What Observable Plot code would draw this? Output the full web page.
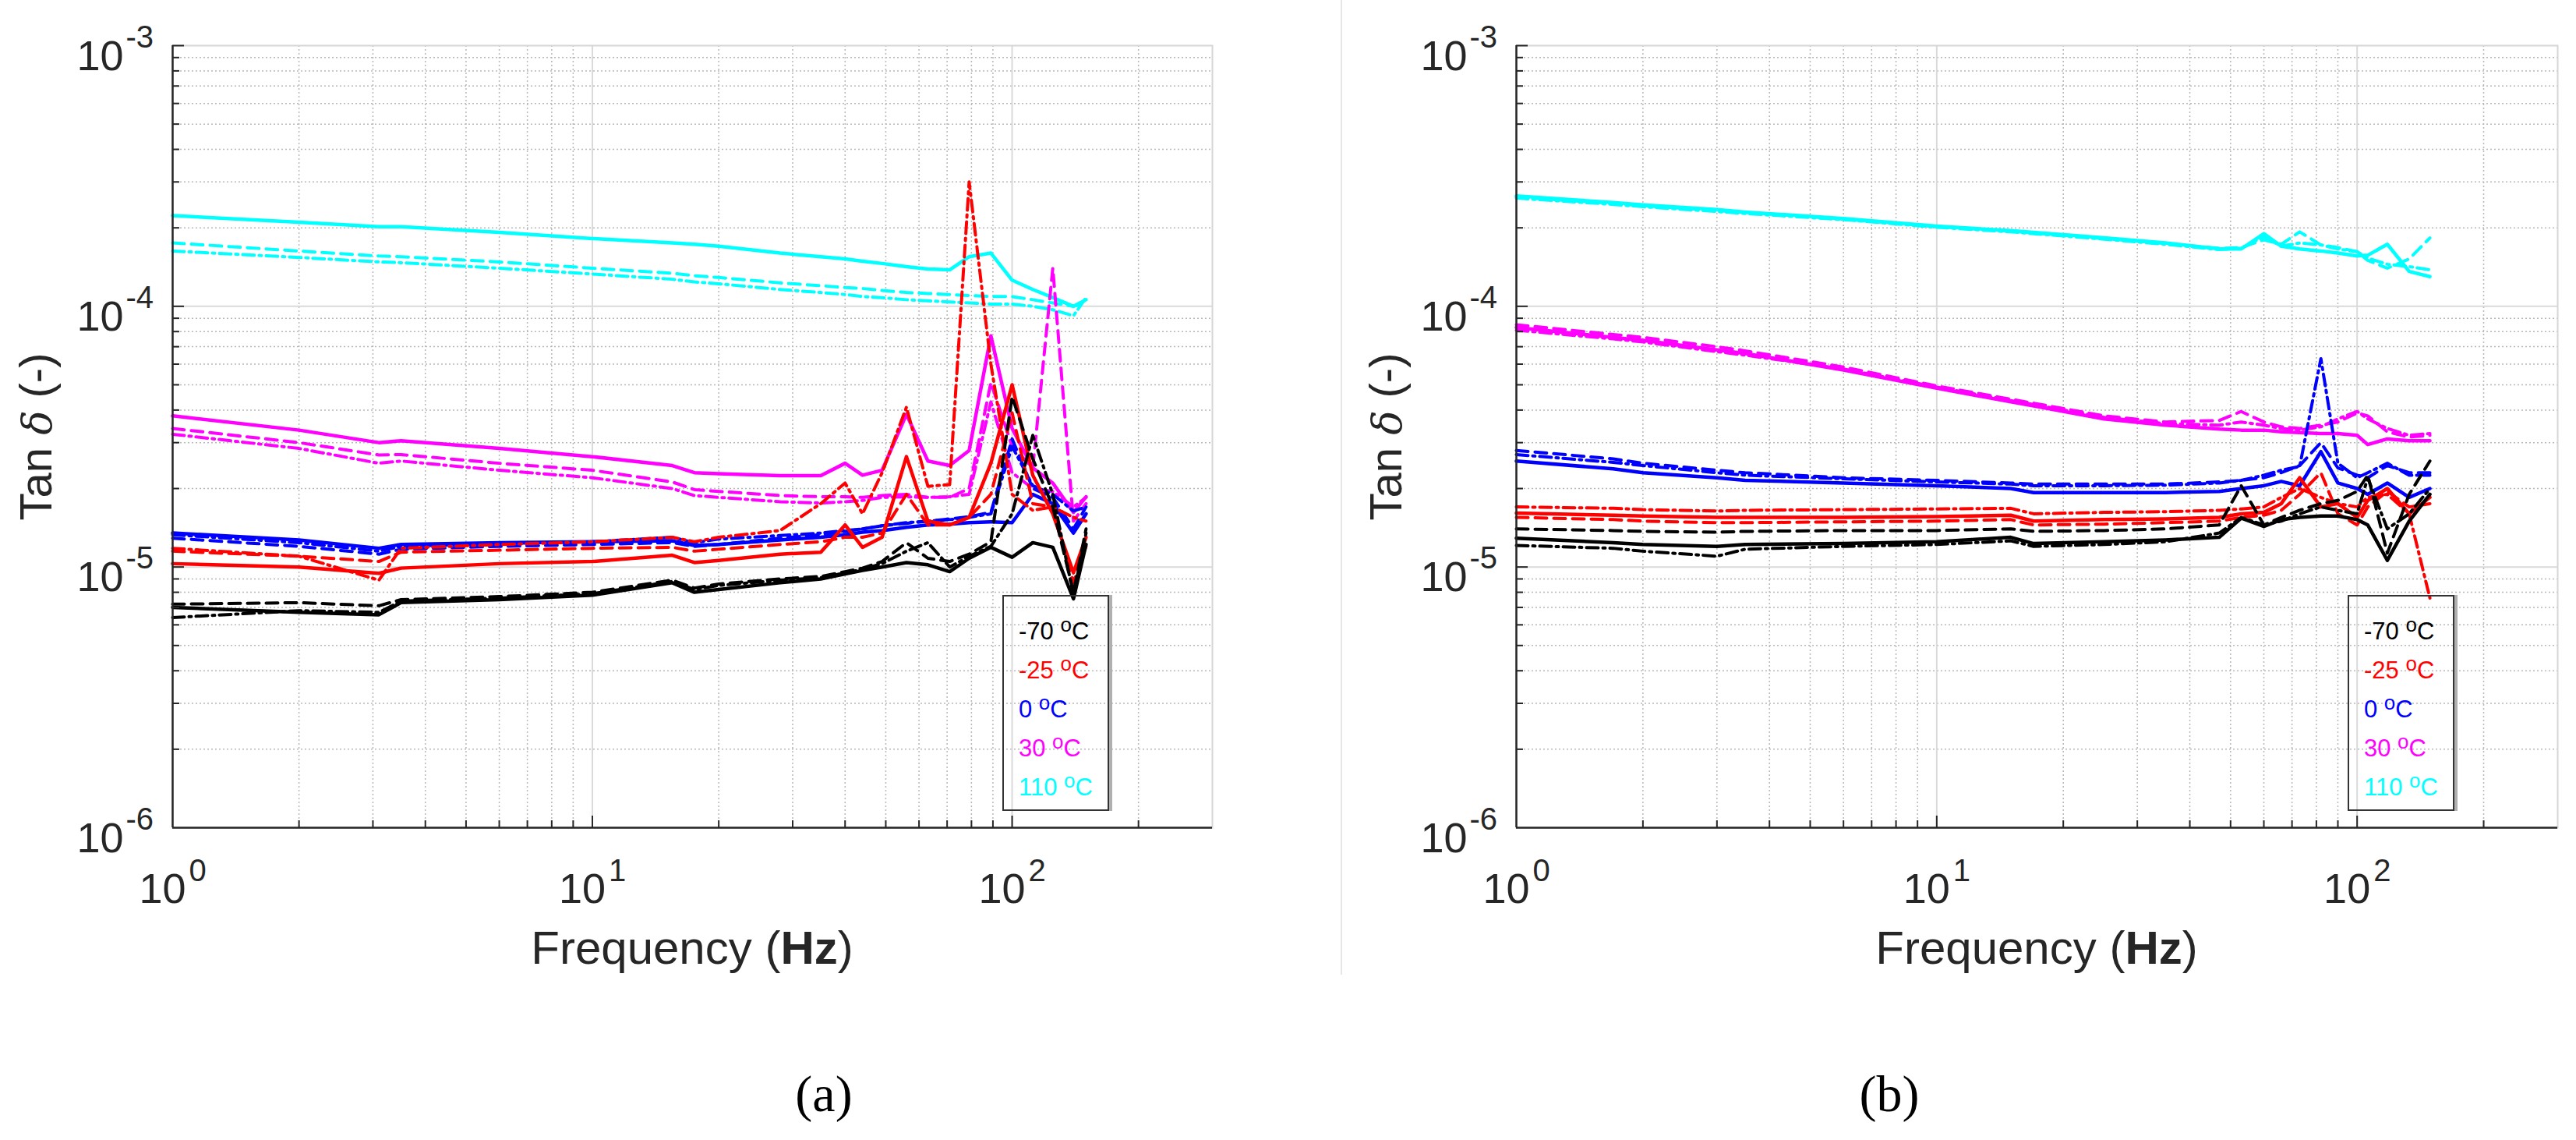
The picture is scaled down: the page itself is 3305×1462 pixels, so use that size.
<!DOCTYPE html>
<html>
<head>
<meta charset="utf-8">
<script src="https://cdn.jsdelivr.net/npm/d3@7"></script>
<script src="https://cdn.jsdelivr.net/npm/@observablehq/plot@0.6"></script>
<style>
  body { margin: 0; background: #fff; }
  #page { position: relative; width: 3305px; height: 1462px; overflow: hidden; background: #fff;
          font-family: "Liberation Sans", Arial, sans-serif; color: #262626; }
  .panel { position: absolute; top: 0; }
  .ylab { position: absolute; font-size: 58px; line-height: 58px; white-space: nowrap;
          transform: translate(-50%, -50%) rotate(-90deg); }
  .ylab i { font-family: "DejaVu Serif", serif; font-size: 52px; }
  .xlab { position: absolute; font-size: 60px; line-height: 60px; white-space: nowrap; transform: translateX(-50%); }
  .xlab b { font-weight: 600; }
  .cap { position: absolute; font-family: "Liberation Serif", serif; font-size: 66px; line-height: 66px;
         color: #000; transform: translateX(-50%); }
  .legend { position: absolute; box-sizing: border-box; border: 2px solid #333; box-shadow: 4px 0 0 #b0b0b0;
            font-size: 31px; line-height: 50px; padding: 20px 0 0 19px; white-space: nowrap; }
  .legend sup { font-size: 26px; line-height: 0; vertical-align: 10px; }
  .sep { position: absolute; left: 1720px; top: 0; width: 2px; height: 1250px; background: #e6e6e6; }
</style>
</head>
<body>
<div id="page">
  <div class="sep"></div>
  <div id="pa" class="panel" style="left:0;width:1650px"></div>
  <div id="pb" class="panel" style="left:1650px;width:1655px"></div>
</div>
<script>
// tan delta values are written in units of 1e-5

// panel (a)
const freqA = [1, 2, 3.1, 3.5, 6, 10, 15.5, 17.5, 20, 28, 35, 40, 44, 49, 56, 63, 71, 79, 89, 100, 112, 125, 140, 150];

const aCyanSolid   = [22.3, 21.0, 20.2, 20.2, 19.2, 18.2, 17.5, 17.3, 17.0, 16.0, 15.5, 15.2, 14.9, 14.6, 14.2, 13.9, 13.8, 15.5, 16.0, 12.6, 11.6, 10.8, 10.0, 10.6];
const aCyanDash    = [17.5, 16.3, 15.6, 15.5, 14.8, 14.0, 13.4, 13.1, 12.9, 12.3, 12.0, 11.8, 11.7, 11.5, 11.3, 11.2, 11.1, 11.0, 10.9, 10.9, 10.6, 10.3, 10.0, 10.3];
const aCyanDashDot = [16.3, 15.4, 14.8, 14.7, 14.0, 13.3, 12.7, 12.4, 12.2, 11.6, 11.3, 11.1, 10.9, 10.8, 10.6, 10.5, 10.4, 10.3, 10.2, 10.2, 10.0, 9.7, 9.2, 10.8];

const aMagSolid    = [3.8, 3.35, 3.0, 3.05, 2.85, 2.65, 2.45, 2.3, 2.28, 2.24, 2.24, 2.5, 2.25, 2.35, 3.85, 2.55, 2.45, 2.8, 7.7, 3.4, 2.4, 2.1, 1.62, 1.86];
const aMagDash     = [3.4, 3.0, 2.69, 2.7, 2.5, 2.35, 2.12, 1.98, 1.95, 1.88, 1.86, 1.86, 1.85, 1.88, 1.9, 1.85, 1.85, 2.0, 5.1, 2.9, 2.4, 14.0, 1.5, 1.75];
const aMagDashDot  = [3.23, 2.85, 2.5, 2.55, 2.35, 2.2, 2.0, 1.88, 1.85, 1.78, 1.76, 1.78, 1.8, 1.85, 1.86, 1.85, 1.86, 1.9, 4.3, 2.3, 2.0, 1.95, 1.7, 1.85];

const aBlueSolid   = [1.35, 1.27, 1.18, 1.22, 1.24, 1.25, 1.26, 1.21, 1.22, 1.27, 1.3, 1.33, 1.36, 1.38, 1.42, 1.45, 1.46, 1.48, 1.49, 1.48, 1.9, 1.75, 1.35, 1.6];
const aBlueDash    = [1.29, 1.2, 1.12, 1.17, 1.2, 1.22, 1.24, 1.2, 1.22, 1.29, 1.33, 1.37, 1.4, 1.44, 1.47, 1.5, 1.53, 1.56, 1.62, 3.1, 2.0, 1.85, 1.4, 1.7];
const aBlueDashDot = [1.33, 1.24, 1.15, 1.2, 1.23, 1.25, 1.3, 1.24, 1.28, 1.32, 1.35, 1.38, 1.4, 1.44, 1.48, 1.5, 1.52, 1.55, 1.6, 2.9, 2.05, 1.9, 1.64, 1.7];

const aRedSolid    = [1.03, 1.0, 0.946, 0.99, 1.03, 1.05, 1.11, 1.04, 1.06, 1.12, 1.14, 1.45, 1.19, 1.3, 2.65, 1.5, 1.45, 1.55, 2.5, 5.0, 2.25, 1.6, 0.95, 1.3];
const aRedDash     = [1.15, 1.1, 1.05, 1.14, 1.16, 1.18, 1.19, 1.15, 1.17, 1.22, 1.25, 1.3, 1.3, 1.35, 1.9, 1.45, 1.45, 1.55, 1.9, 3.9, 1.75, 1.7, 0.87, 1.2];
const aRedDashDot  = [1.18, 1.1, 0.89, 1.18, 1.22, 1.25, 1.3, 1.25, 1.3, 1.38, 1.75, 2.1, 1.6, 2.3, 4.1, 2.04, 2.07, 30.0, 6.0, 1.9, 1.65, 1.7, 1.55, 1.5];

const aBlackSolid  = [0.70, 0.67, 0.656, 0.73, 0.75, 0.78, 0.87, 0.80, 0.82, 0.87, 0.9, 0.94, 0.97, 1.0, 1.04, 1.02, 0.96, 1.08, 1.19, 1.09, 1.24, 1.19, 0.755, 1.22];
const aBlackDash   = [0.72, 0.73, 0.71, 0.75, 0.77, 0.8, 0.89, 0.83, 0.86, 0.9, 0.92, 0.96, 0.99, 1.05, 1.24, 1.08, 1.05, 1.12, 1.25, 4.5, 2.6, 1.7, 0.8, 1.4];
const aBlackDashDot= [0.64, 0.68, 0.67, 0.74, 0.76, 0.79, 0.88, 0.82, 0.85, 0.89, 0.91, 0.95, 0.98, 1.03, 1.15, 1.24, 1.0, 1.1, 1.2, 1.6, 3.2, 1.9, 0.78, 1.35];

// panel (b)
const freqB = [1, 1.7, 2, 3, 3.5, 6, 10, 15, 17, 25, 35, 47, 53, 60, 66, 73, 82, 90, 100, 106, 118, 133, 149];

const bCyanSolid   = [26.5, 25.0, 24.5, 23.5, 23.0, 21.7, 20.3, 19.5, 19.2, 18.3, 17.5, 16.6, 16.6, 19.0, 17.0, 16.6, 16.3, 16.0, 15.6, 15.7, 17.3, 13.6, 13.0];
const bCyanDash    = [26.2, 24.8, 24.3, 23.3, 22.9, 21.6, 20.2, 19.4, 19.1, 18.2, 17.4, 16.7, 16.8, 18.0, 17.3, 19.3, 17.2, 16.8, 16.2, 15.0, 14.0, 15.2, 18.3];
const bCyanDashDot = [26.0, 24.6, 24.1, 23.1, 22.7, 21.5, 20.1, 19.3, 19.0, 18.1, 17.3, 16.5, 16.7, 18.5, 17.0, 17.5, 17.2, 16.6, 16.2, 15.3, 14.5, 14.2, 13.8];

const bMagSolid    = [8.3, 7.6, 7.4, 6.8, 6.6, 5.7, 4.85, 4.3, 4.15, 3.7, 3.5, 3.38, 3.35, 3.35, 3.3, 3.28, 3.25, 3.25, 3.2, 2.95, 3.1, 3.05, 3.05];
const bMagDash     = [8.5, 7.8, 7.6, 7.0, 6.75, 5.85, 4.95, 4.4, 4.25, 3.8, 3.6, 3.65, 3.95, 3.6, 3.45, 3.4, 3.5, 3.6, 3.9, 3.8, 3.3, 3.15, 3.2];
const bMagDashDot  = [8.1, 7.5, 7.3, 6.7, 6.5, 5.75, 4.9, 4.35, 4.2, 3.75, 3.55, 3.5, 3.6, 3.5, 3.4, 3.35, 3.45, 3.7, 3.95, 3.7, 3.4, 3.2, 3.25];

const bBlueSolid   = [2.55, 2.38, 2.3, 2.2, 2.15, 2.1, 2.05, 2.0, 1.93, 1.93, 1.93, 1.95, 2.0, 2.05, 2.13, 2.05, 2.77, 2.1, 2.0, 1.9, 2.1, 1.85, 2.0];
const bBlueDash    = [2.8, 2.6, 2.5, 2.35, 2.3, 2.2, 2.15, 2.1, 2.08, 2.08, 2.08, 2.12, 2.15, 2.2, 2.3, 2.45, 3.0, 2.4, 2.25, 2.2, 2.45, 2.3, 2.3];
const bBlueDashDot = [2.7, 2.52, 2.45, 2.3, 2.25, 2.18, 2.12, 2.08, 2.05, 2.05, 2.06, 2.1, 2.15, 2.25, 2.35, 2.43, 6.3, 2.5, 2.2, 2.3, 2.5, 2.25, 2.25];

const bRedSolid    = [1.61, 1.58, 1.57, 1.55, 1.55, 1.55, 1.56, 1.58, 1.5, 1.52, 1.53, 1.55, 1.6, 1.62, 1.75, 2.2, 1.7, 1.75, 1.55, 1.8, 2.0, 1.6, 1.85];
const bRedDash     = [1.55, 1.52, 1.5, 1.48, 1.48, 1.49, 1.5, 1.52, 1.45, 1.46, 1.48, 1.5, 1.55, 1.58, 1.65, 1.9, 2.3, 1.6, 1.45, 1.7, 1.95, 1.7, 1.75];
const bRedDashDot  = [1.7, 1.68, 1.66, 1.64, 1.65, 1.66, 1.67, 1.68, 1.6, 1.62, 1.63, 1.65, 1.67, 1.7, 1.85, 2.0, 1.85, 1.75, 1.7, 1.85, 1.9, 1.6, 0.76];

const bBlackSolid  = [1.29, 1.24, 1.22, 1.2, 1.22, 1.23, 1.25, 1.3, 1.23, 1.25, 1.27, 1.3, 1.54, 1.43, 1.52, 1.55, 1.57, 1.57, 1.52, 1.45, 1.06, 1.5, 1.9];
const bBlackDash   = [1.4, 1.38, 1.37, 1.36, 1.37, 1.38, 1.38, 1.4, 1.37, 1.38, 1.4, 1.45, 2.05, 1.45, 1.55, 1.65, 1.75, 1.8, 1.95, 2.25, 1.13, 1.9, 2.55];
const bBlackDashDot= [1.21, 1.18, 1.15, 1.1, 1.17, 1.2, 1.22, 1.26, 1.2, 1.22, 1.25, 1.35, 1.55, 1.45, 1.5, 1.6, 1.7, 1.65, 1.6, 2.2, 1.4, 1.6, 2.0];

// legend / colours
const temps = ["-70", "-25", "0", "30", "110"];
const tempColors = ["#000000", "#ff0000", "#0000ff", "#ff00ff", "#00ffff"];

// axis ticks and grid
const xTickVals = [1, 10, 100];
const xTickExp = ["0", "1", "2"];
const yTickVals = [1e-3, 1e-4, 1e-5, 1e-6];
const yTickExp = ["-3", "-4", "-5", "-6"];
const xMinor = [2, 3, 4, 5, 6, 7, 8, 9, 20, 30, 40, 50, 60, 70, 80, 90, 200];
const yMinor = [2e-6, 3e-6, 4e-6, 5e-6, 6e-6, 7e-6, 8e-6, 9e-6,
                2e-5, 3e-5, 4e-5, 5e-5, 6e-5, 7e-5, 8e-5, 9e-5,
                2e-4, 3e-4, 4e-4, 5e-4, 6e-4, 7e-4, 8e-4, 9e-4];

const dashes = { solid: null, dash: "15,9", dashdot: "15,6,3,6" };

function seriesSet(c, b, r, m, k) {
  // drawn from 110 °C down to -70 °C
  return [
    { color: tempColors[4], lines: c },
    { color: tempColors[3], lines: m },
    { color: tempColors[2], lines: b },
    { color: tempColors[1], lines: r },
    { color: tempColors[0], lines: k }
  ];
}

const seriesA = seriesSet(
  [aCyanSolid, aCyanDash, aCyanDashDot],
  [aBlueSolid, aBlueDash, aBlueDashDot],
  [aRedSolid, aRedDash, aRedDashDot],
  [aMagSolid, aMagDash, aMagDashDot],
  [aBlackSolid, aBlackDash, aBlackDashDot]
);
const seriesB = seriesSet(
  [bCyanSolid, bCyanDash, bCyanDashDot],
  [bBlueSolid, bBlueDash, bBlueDashDot],
  [bRedSolid, bRedDash, bRedDashDot],
  [bMagSolid, bMagDash, bMagDashDot],
  [bBlackSolid, bBlackDash, bBlackDashDot]
);

function panel(freq, series, W, mL, mR) {
  const H = 1290, mT = 58, mB = 229;
  const plotW = W - mL - mR, plotH = H - mT - mB;
  const axisColor = "#262626";
  const xTicks = xTickVals.map((v, i) => ({ v, e: xTickExp[i] }));
  const yTicks = yTickVals.map((v, i) => ({ v, e: yTickExp[i] }));

  const lineMarks = [];
  series.forEach(s => {
    ["solid", "dash", "dashdot"].forEach((style, j) => {
      const rows = freq.map((f, i) => ({ f, v: s.lines[j][i] * 1e-5 }));
      lineMarks.push(Plot.line(rows, {
        x: "f", y: "v", stroke: s.color,
        strokeWidth: style === "solid" ? 4.5 : 4,
        strokeDasharray: dashes[style],
        strokeLinejoin: "round"
      }));
    });
  });

  return Plot.plot({
    width: W, height: H,
    marginLeft: mL, marginRight: mR, marginTop: mT, marginBottom: mB,
    x: { type: "log", domain: [1, 300], axis: null },
    y: { type: "log", domain: [1e-6, 1e-3], axis: null },
    style: { fontFamily: "Liberation Sans, Arial, sans-serif", background: "transparent", overflow: "visible" },
    marks: [
      Plot.ruleX(xMinor, { stroke: "#b8b8b8", strokeWidth: 1.5, strokeDasharray: "2,3" }),
      Plot.ruleY(yMinor, { stroke: "#b8b8b8", strokeWidth: 1.5, strokeDasharray: "2,3" }),
      Plot.ruleX([10, 100], { stroke: "#dadada", strokeWidth: 2 }),
      Plot.ruleY([1e-5, 1e-4], { stroke: "#dadada", strokeWidth: 2 }),
      Plot.frame({ stroke: "#d6d6d6", strokeWidth: 2 }),
      ...lineMarks,
      // axis lines
      Plot.ruleX([1], { stroke: axisColor, strokeWidth: 2.5 }),
      Plot.ruleY([1e-6], { stroke: axisColor, strokeWidth: 2.5 }),
      // inward ticks
      Plot.ruleY(yMinor, { stroke: axisColor, strokeWidth: 2, insetRight: plotW - 9 }),
      Plot.ruleY([1e-5, 1e-4, 1e-3], { stroke: axisColor, strokeWidth: 2, insetRight: plotW - 15 }),
      Plot.ruleX(xMinor, { stroke: axisColor, strokeWidth: 2, insetTop: plotH - 9 }),
      Plot.ruleX([10, 100], { stroke: axisColor, strokeWidth: 2, insetTop: plotH - 15 }),
      // tick labels 10^n
      Plot.text(yTicks, { y: "v", text: () => "10", frameAnchor: "left", textAnchor: "end",
        lineAnchor: "bottom", dx: -63, dy: 31, fontSize: 54, fill: axisColor }),
      Plot.text(yTicks, { y: "v", text: "e", frameAnchor: "left", textAnchor: "start",
        lineAnchor: "bottom", dx: -60, dy: 2, fontSize: 40, fill: axisColor }),
      Plot.text(xTicks, { x: "v", text: () => "10", frameAnchor: "bottom", textAnchor: "end",
        lineAnchor: "bottom", dx: 17, dy: 96, fontSize: 54, fill: axisColor }),
      Plot.text(xTicks, { x: "v", text: "e", frameAnchor: "bottom", textAnchor: "start",
        lineAnchor: "bottom", dx: 21, dy: 68, fontSize: 40, fill: axisColor })
    ]
  });
}

document.getElementById("pa").append(panel(freqA, seriesA, 1650, 221, 95));
document.getElementById("pb").append(panel(freqB, seriesB, 1655, 295, 24));

// labels, legends and captions laid over the two plots
const page = document.getElementById("page");
function addDiv(cls, left, top, html, extra) {
  const d = document.createElement("div");
  d.className = cls;
  d.style.left = left + "px";
  d.style.top = top + "px";
  if (extra) Object.assign(d.style, extra);
  d.innerHTML = html;
  page.append(d);
  return d;
}

[[47, 1057, 888], [1779, 2424, 2613]].forEach(([ylx, capx, xlx], k) => {
  addDiv("ylab", ylx, 560, "Tan <i>δ</i> (-)");
  addDiv("xlab", xlx, 1186, "Frequency (<b>Hz</b>)");
  addDiv("cap", capx, 1370, k === 0 ? "(a)" : "(b)");
});

[1286, 3012].forEach(left => {
  const html = temps.map((t, i) =>
    `<div style="color:${tempColors[i]}">${t} <sup>o</sup>C</div>`).join("");
  addDiv("legend", left, 763, html, { width: "137px", height: "277px" });
});
</script>
</body>
</html>
